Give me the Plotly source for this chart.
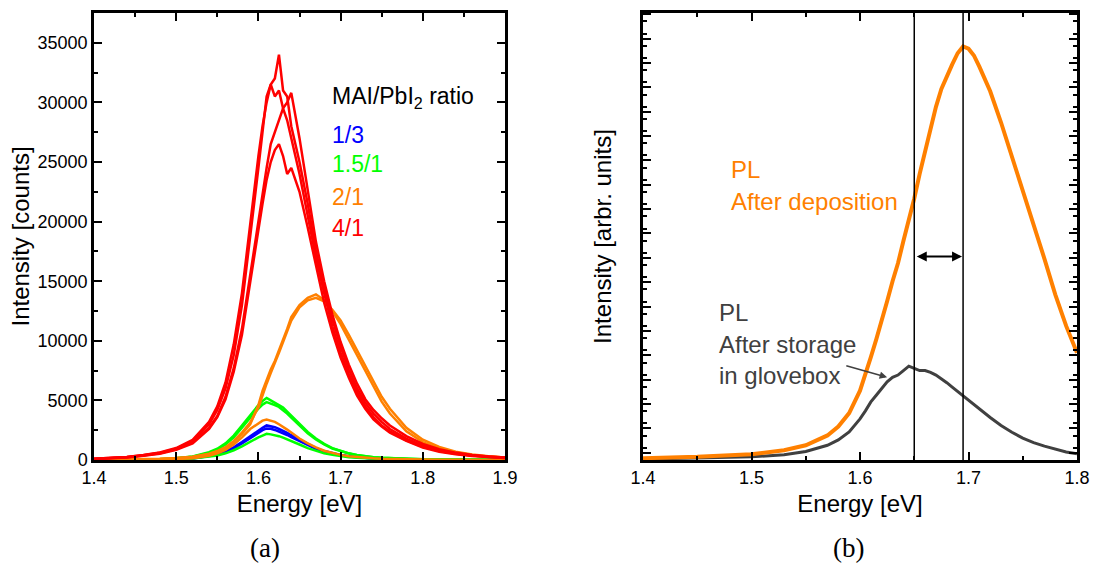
import plotly.graph_objects as go

# ---------------- Panel (a) data ----------------
E_A = [1.40, 1.42, 1.44, 1.46, 1.48, 1.50, 1.52, 1.54, 1.55, 1.56, 1.57, 1.58, 1.59, 1.60,
       1.605, 1.61, 1.615, 1.62, 1.625, 1.63, 1.635, 1.64, 1.65, 1.66, 1.67, 1.68, 1.69,
       1.70, 1.71, 1.72, 1.73, 1.74, 1.75, 1.76, 1.78, 1.80, 1.82, 1.84, 1.86, 1.88, 1.90]

red_1 = [100, 150, 250, 400, 600, 950, 1600, 3000, 4200, 6000, 8800, 13000, 18500, 24500,
         27500, 30500, 31500, 32000, 34000, 31000, 30500, 28000, 25000, 21500, 17500, 14500,
         11800, 9500, 7600, 6000, 4800, 3900, 3200, 2600, 1800, 1200, 800, 550, 380, 260, 180]
red_2 = [110, 160, 260, 420, 640, 1000, 1700, 3200, 4500, 6500, 9700, 14000, 20000, 25500,
         28000, 30000, 31500, 30500, 31000, 29500, 28500, 27000, 24000, 20500, 17000, 14000,
         11200, 9000, 7200, 5700, 4500, 3600, 2900, 2400, 1650, 1100, 750, 520, 360, 250, 170]
red_3 = [90, 140, 230, 370, 560, 900, 1500, 2700, 3700, 5300, 7700, 11000, 15500, 20000,
         22500, 24500, 26500, 27500, 28500, 29500, 30000, 30800, 27000, 22800, 18300, 15000,
         12200, 9900, 8000, 6400, 5100, 4200, 3500, 2900, 2000, 1350, 900, 620, 420, 290, 200]
red_4 = [85, 130, 220, 350, 530, 850, 1400, 2600, 3600, 5100, 7400, 10500, 15000, 19500,
         21500, 23500, 25000, 26000, 26500, 25500, 24000, 24500, 22500, 19500, 16200, 13200,
         10700, 8600, 6900, 5400, 4300, 3400, 2800, 2300, 1600, 1050, 700, 480, 330, 230, 160]

orange_1 = [20, 30, 40, 60, 90, 150, 260, 480, 700, 1000, 1500, 2200, 3000, 4600,
            5800, 6700, 7600, 8300, 9200, 10000, 11000, 12000, 13000, 13600, 13900, 13400,
            12500, 11400, 10100, 8800, 7500, 6200, 4900, 3900, 2400, 1500, 950, 620, 420, 290, 200]
orange_2 = [25, 35, 45, 65, 100, 160, 280, 520, 750, 1080, 1600, 2300, 3150, 4400,
            5500, 6400, 7300, 8100, 9000, 9900, 10800, 11700, 12800, 13400, 13600, 13300,
            12600, 11700, 10500, 9200, 7900, 6600, 5300, 4300, 2700, 1700, 1100, 700, 470, 320, 220]
orange_3 = [10, 15, 20, 30, 50, 80, 150, 350, 550, 850, 1300, 1900, 2600, 3100,
            3300, 3400, 3300, 3200, 3000, 2800, 2550, 2300, 1800, 1400, 1050, 780,
            580, 430, 320, 240, 180, 140, 110, 90, 60, 40, 30, 20, 15, 12, 10]

green_1 = [10, 15, 25, 40, 70, 150, 300, 650, 950, 1400, 2050, 2900, 3800, 4600,
           4950, 5200, 5000, 4800, 4650, 4400, 4050, 3700, 3000, 2350, 1800, 1350,
           1000, 750, 560, 420, 320, 240, 190, 150, 100, 70, 50, 35, 25, 20, 15]
green_2 = [10, 14, 22, 36, 65, 140, 280, 600, 880, 1300, 1900, 2700, 3550, 4300,
           4650, 4850, 4750, 4600, 4450, 4200, 3900, 3550, 2900, 2250, 1720, 1300,
           960, 720, 540, 400, 305, 230, 180, 145, 95, 65, 48, 33, 24, 18, 14]
green_3 = [5, 8, 12, 20, 35, 60, 120, 260, 380, 560, 820, 1150, 1550, 1900,
           2050, 2200, 2150, 2100, 2000, 1880, 1750, 1600, 1300, 1000, 760, 570,
           430, 320, 240, 180, 135, 100, 80, 65, 45, 30, 22, 16, 12, 9, 7]

blue_1 = [5, 8, 12, 22, 40, 70, 150, 330, 480, 720, 1060, 1500, 2000, 2500,
          2700, 2900, 2850, 2750, 2600, 2450, 2280, 2080, 1700, 1320, 1000, 750,
          560, 420, 310, 235, 175, 130, 100, 80, 55, 40, 28, 20, 15, 11, 8]
blue_2 = [5, 8, 12, 20, 36, 65, 135, 300, 440, 660, 970, 1380, 1850, 2300,
          2500, 2650, 2620, 2520, 2400, 2260, 2100, 1920, 1570, 1220, 930, 700,
          520, 390, 290, 220, 165, 122, 95, 75, 52, 37, 26, 19, 14, 10, 8]

legend_title = "MAI/PbI<sub>2</sub> ratio"
legend_labels = ["1/3", "1.5/1", "2/1", "4/1"]

# ---------------- Panel (b) data ----------------
E_B = [1.40, 1.45, 1.50, 1.53, 1.55, 1.57, 1.58, 1.59, 1.60, 1.605, 1.61, 1.615, 1.62,
       1.625, 1.63, 1.635, 1.64, 1.645, 1.65, 1.655, 1.66, 1.665, 1.67, 1.675, 1.68,
       1.685, 1.69, 1.695, 1.70, 1.705, 1.71, 1.72, 1.73, 1.74, 1.75, 1.76, 1.77, 1.78,
       1.79, 1.80]
pl_deposition = [0.004, 0.007, 0.013, 0.022, 0.033, 0.055, 0.075, 0.105, 0.155, 0.19, 0.23,
                 0.27, 0.31, 0.355, 0.40, 0.44, 0.49, 0.535, 0.585, 0.64, 0.69, 0.74, 0.79,
                 0.83, 0.86, 0.885, 0.91, 0.925, 0.92, 0.905, 0.88, 0.825, 0.755, 0.68, 0.60,
                 0.53, 0.45, 0.37, 0.30, 0.24]
pl_storage = [0.002, 0.004, 0.007, 0.012, 0.019, 0.033, 0.045, 0.063, 0.092, 0.11, 0.13,
              0.145, 0.16, 0.175, 0.185, 0.19, 0.20, 0.21, 0.205, 0.20, 0.20, 0.196, 0.19,
              0.182, 0.173, 0.163, 0.153, 0.143, 0.133, 0.123, 0.113, 0.095, 0.077, 0.062,
              0.049, 0.039, 0.031, 0.024, 0.018, 0.014]
peak_lines = [1.65, 1.695]

BLUE = "#0000FF"
GREEN = "#00FF00"
ORANGE = "#FF8000"
RED = "#FF0000"
GREY = "#404040"
SANS = "Liberation Sans, Arial, sans-serif"

fig = go.Figure()

for ys, col in [(blue_1, BLUE), (blue_2, BLUE), (green_3, GREEN), (green_2, GREEN),
                (green_1, GREEN), (orange_3, ORANGE), (orange_2, ORANGE), (orange_1, ORANGE),
                (red_4, RED), (red_3, RED), (red_2, RED), (red_1, RED)]:
    fig.add_trace(go.Scatter(x=E_A, y=ys, mode="lines", line=dict(color=col, width=2.5),
                             xaxis="x", yaxis="y", showlegend=False, hoverinfo="skip"))

fig.add_trace(go.Scatter(x=E_B, y=pl_storage, mode="lines", line=dict(color=GREY, width=3),
                         xaxis="x2", yaxis="y2", showlegend=False))
fig.add_trace(go.Scatter(x=E_B, y=pl_deposition, mode="lines", line=dict(color=ORANGE, width=4),
                         xaxis="x2", yaxis="y2", showlegend=False))

axis_common = dict(showline=True, linewidth=2.5, linecolor="black", mirror="allticks",
                   ticks="inside", ticklen=8, tickwidth=2, tickcolor="black",
                   showgrid=False, zeroline=False, automargin=False,
                   tickfont=dict(family=SANS, size=18, color="black"))
TITLE_FONT = dict(family=SANS, size=24, color="black")

ydom = [1 - 460 / 569, 1 - 13 / 569]

fig.update_layout(
    width=1114, height=569, autosize=False,
    margin=dict(l=0, r=0, t=0, b=0),
    paper_bgcolor="white", plot_bgcolor="white",
    xaxis=dict(**axis_common, domain=[94 / 1114, 505 / 1114], anchor="y",
               range=[1.4, 1.9], tick0=1.4, dtick=0.1,
               minor=dict(ticks="inside", ticklen=4, tickwidth=2, dtick=0.05, tickcolor="black"),
               title=dict(text="Energy [eV]", font=TITLE_FONT, standoff=8)),
    yaxis=dict(**axis_common, domain=ydom, anchor="x",
               range=[0, 37500], tick0=0, dtick=5000, tickformat="d",
               minor=dict(ticks="inside", ticklen=4, tickwidth=2, dtick=2500, tickcolor="black"),
               title=dict(text="Intensity [counts]", font=TITLE_FONT, standoff=2)),
    xaxis2=dict(**axis_common, domain=[643 / 1114, 1077 / 1114], anchor="y2",
                range=[1.4, 1.8], tick0=1.4, dtick=0.1,
                minor=dict(ticks="inside", ticklen=4, tickwidth=2, dtick=0.05, tickcolor="black"),
                title=dict(text="Energy [eV]", font=TITLE_FONT, standoff=8)),
    yaxis2=dict(**axis_common, domain=ydom, anchor="x2",
                range=[0, 1], tick0=0.0708, dtick=0.0545, showticklabels=False,
                minor=dict(ticks="inside", ticklen=4, tickwidth=2, dtick=0.02725, tickcolor="black"),
                title=dict(text="Intensity [arbr. units]", font=TITLE_FONT, standoff=22)),
)

# vertical peak lines in (b)
for xv in peak_lines:
    fig.add_shape(type="line", xref="x2", yref="y2 domain", x0=xv, x1=xv, y0=0, y1=1,
                  line=dict(color="black", width=1.5))

# double arrow between peak lines
fig.add_annotation(xref="x2", yref="y2", axref="x2", ayref="y2",
                   x=peak_lines[1], y=0.455, ax=peak_lines[0], ay=0.455, text="",
                   showarrow=True, arrowhead=2, arrowside="end+start", arrowsize=1,
                   arrowwidth=2, arrowcolor="black", standoff=1, startstandoff=1)

# legend text (a)
fig.add_annotation(xref="x", yref="y", x=1.687, y=30370, text=legend_title, showarrow=False,
                   xanchor="left", yanchor="middle", font=dict(family=SANS, size=23, color="black"))
for lab, col, yv in zip(legend_labels, [BLUE, GREEN, ORANGE, RED], [27270, 24800, 22100, 19460]):
    fig.add_annotation(xref="x", yref="y", x=1.687, y=yv, text=lab, showarrow=False,
                       xanchor="left", yanchor="middle", font=dict(family=SANS, size=23, color=col))

# labels (b)
for txt, yv in [("PL", 0.65), ("After deposition", 0.578)]:
    fig.add_annotation(xref="x2", yref="y2", x=1.479, y=yv, text=txt, showarrow=False,
                       xanchor="left", yanchor="middle", font=dict(family=SANS, size=24, color=ORANGE))
for txt, yv in [("PL", 0.33), ("After storage", 0.259), ("in glovebox", 0.188)]:
    fig.add_annotation(xref="x2", yref="y2", x=1.468, y=yv, text=txt, showarrow=False,
                       xanchor="left", yanchor="middle", font=dict(family=SANS, size=24, color=GREY))
fig.add_annotation(xref="x2", yref="y2", axref="x2", ayref="y2",
                   x=1.625, y=0.185, ax=1.586, ay=0.212, text="", showarrow=True,
                   arrowhead=2, arrowsize=1, arrowwidth=1.5, arrowcolor=GREY)

# captions
for txt, xp in [("(a)", 265 / 1114), ("(b)", 848 / 1114)]:
    fig.add_annotation(xref="paper", yref="paper", x=xp, y=1 - 548 / 569, text=txt,
                       showarrow=False, xanchor="center", yanchor="middle",
                       font=dict(family="Liberation Serif, serif", size=27, color="black"))

fig.write_html("out.html")
